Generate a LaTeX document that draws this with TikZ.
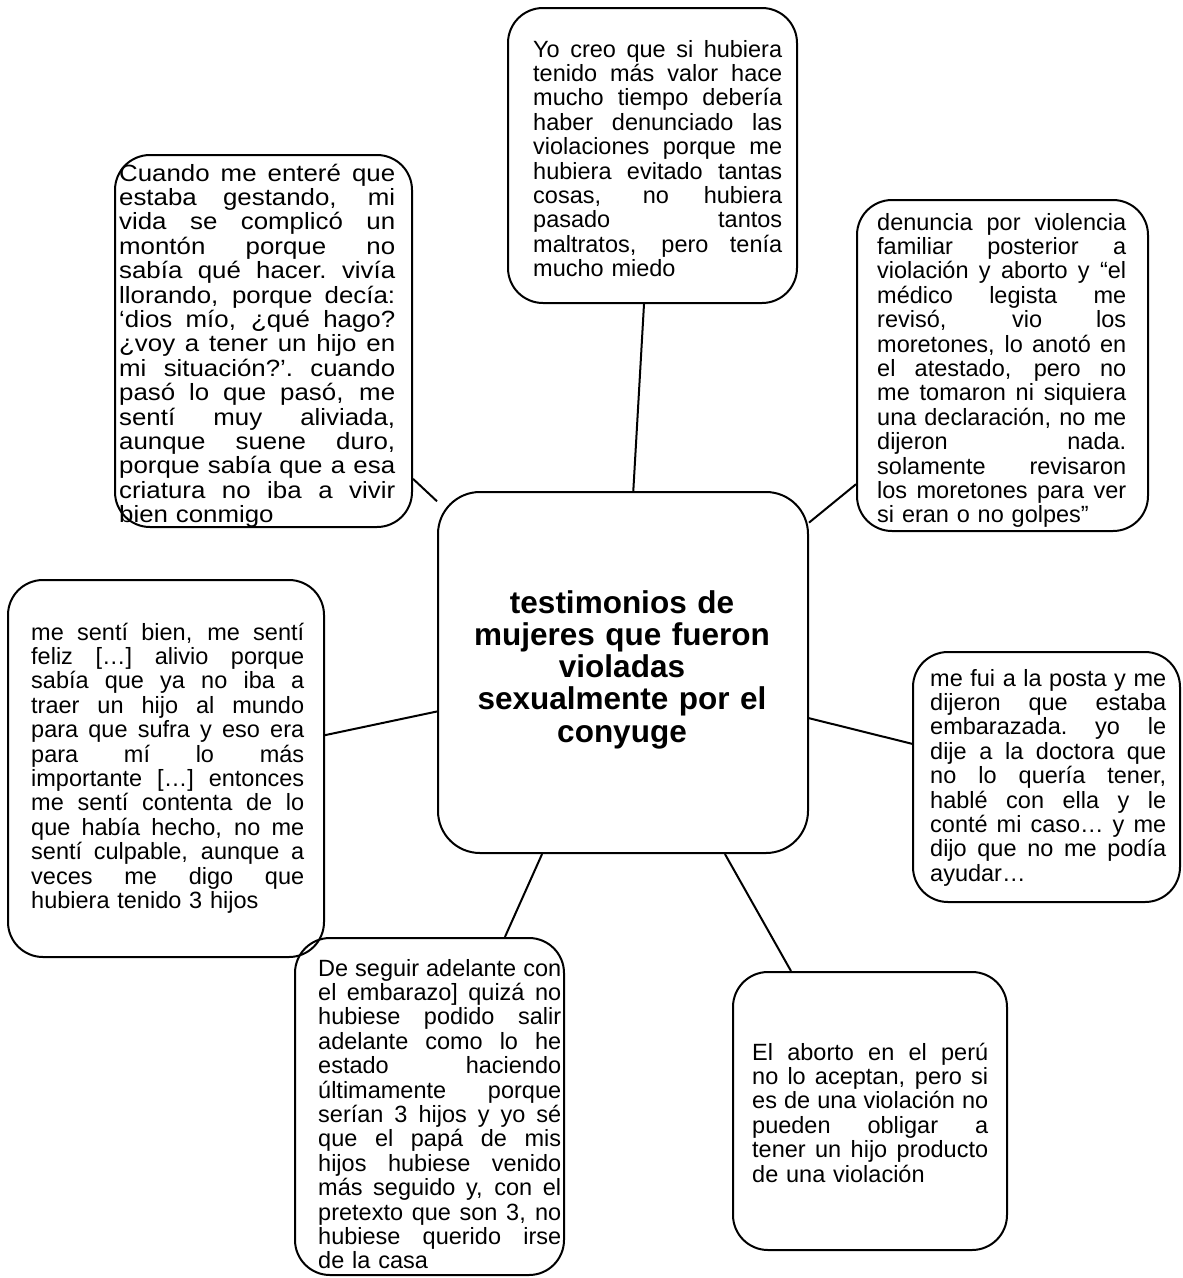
\documentclass[tikz,border=0pt]{standalone}
\usepackage{fontspec}
\newfontfamily\arial{Liberation Sans}
\newfontfamily\arialwide[FakeStretch=1.1]{Liberation Sans}
\newcommand\jl[1]{\leavevmode\hbox to\hsize{\spaceskip=0.278em plus 20em minus 0.05em\xspaceskip=\spaceskip #1}}
\begin{document}
\begin{tikzpicture}[x=1pt,y=-1pt,
  box/.style={draw, rounded corners=35pt, inner sep=0pt, line width=2pt},
  txt/.style={inner sep=0pt, anchor=base west, align=left,
    font={\arial\fontsize{23.5}{24.4}\selectfont}},
  link/.style={line width=2pt}]
\useasboundingbox (0,0) rectangle (1183,1278);

% boxes
\node[box, rounded corners=42pt, minimum width=370pt, minimum height=361pt] (c) at (623,672.5) {};
\node[box, minimum width=289pt, minimum height=295pt] (t)  at (652.5,155.5) {};
\node[box, minimum width=297pt, minimum height=372pt] (tl) at (263.5,341) {};
\node[box, minimum width=291pt, minimum height=331pt] (tr) at (1002.5,365.5) {};
\node[box, minimum width=316pt, minimum height=377pt] (l)  at (166,768.5) {};
\node[box, minimum width=267pt, minimum height=250pt] (r)  at (1046.5,777) {};
\node[box, minimum width=269pt, minimum height=337pt] (bm) at (429.5,1106.5) {};
\node[box, minimum width=274pt, minimum height=278pt] (br) at (870,1111) {};

% connectors
\draw[link] (t) -- (c);
\draw[link] (tl) -- (c);
\draw[link] (tr) -- (c);
\draw[link] (l) -- (c);
\draw[link] (r) -- (c);
\draw[link] (bm) -- (c);
\draw[link] (br) -- (c);

% centre text
\node[inner sep=0pt, anchor=base, text width=360pt, align=center,
  font={\arial\bfseries\fontsize{31.5}{32.3}\selectfont}] (ctxt) at (622,613)
  {testimonios de\\mujeres que fueron\\violadas\\sexualmente por el\\conyuge};

% top
\node[txt, text width=249pt] (ttxt) at (533,57) {%
\jl{Yo creo que si hubiera}\\
\jl{tenido más valor hace}\\
\jl{mucho tiempo debería}\\
\jl{haber denunciado las}\\
\jl{violaciones porque me}\\
\jl{hubiera evitado tantas}\\
\jl{cosas, no hubiera}\\
\jl{pasado tantos}\\
\jl{maltratos, pero tenía}\\
mucho miedo};

% top left
\node[txt, text width=276pt, font={\arialwide\fontsize{23.5}{24.4}\selectfont}] (tltxt) at (119,181) {%
\jl{Cuando me enteré que}\\
\jl{estaba gestando, mi}\\
\jl{vida se complicó un}\\
\jl{montón porque no}\\
\jl{sabía qué hacer. vivía}\\
\jl{llorando, porque decía:}\\
\jl{‘dios mío, ¿qué hago?}\\
\jl{¿voy a tener un hijo en}\\
\jl{mi situación?’. cuando}\\
\jl{pasó lo que pasó, me}\\
\jl{sentí muy aliviada,}\\
\jl{aunque suene duro,}\\
\jl{porque sabía que a esa}\\
\jl{criatura no iba a vivir}\\
bien conmigo};

% top right
\node[txt, text width=249pt] (trtxt) at (877,230) {%
\jl{denuncia por violencia}\\
\jl{familiar posterior a}\\
\jl{violación y aborto y “el}\\
\jl{médico legista me}\\
\jl{revisó, vio los}\\
\jl{moretones, lo anotó en}\\
\jl{el atestado, pero no}\\
\jl{me tomaron ni siquiera}\\
\jl{una declaración, no me}\\
\jl{dijeron nada.}\\
\jl{solamente revisaron}\\
\jl{los moretones para ver}\\
si eran o no golpes”};

% left
\node[txt, text width=273pt] (ltxt) at (31,640) {%
\jl{me sentí bien, me sentí}\\
\jl{feliz […] alivio porque}\\
\jl{sabía que ya no iba a}\\
\jl{traer un hijo al mundo}\\
\jl{para que sufra y eso era}\\
\jl{para mí lo más}\\
\jl{importante […] entonces}\\
\jl{me sentí contenta de lo}\\
\jl{que había hecho, no me}\\
\jl{sentí culpable, aunque a}\\
\jl{veces me digo que}\\
hubiera tenido 3 hijos};

% right
\node[txt, text width=236pt] (rtxt) at (930,686) {%
\jl{me fui a la posta y me}\\
\jl{dijeron que estaba}\\
\jl{embarazada. yo le}\\
\jl{dije a la doctora que}\\
\jl{no lo quería tener,}\\
\jl{hablé con ella y le}\\
\jl{conté mi caso… y me}\\
\jl{dijo que no me podía}\\
ayudar…};

% bottom middle
\node[txt, text width=243pt] (bmtxt) at (318,976) {%
\jl{De seguir adelante con}\\
\jl{el embarazo] quizá no}\\
\jl{hubiese podido salir}\\
\jl{adelante como lo he}\\
\jl{estado haciendo}\\
\jl{últimamente porque}\\
\jl{serían 3 hijos y yo sé}\\
\jl{que el papá de mis}\\
\jl{hijos hubiese venido}\\
\jl{más seguido y, con el}\\
\jl{pretexto que son 3, no}\\
\jl{hubiese querido irse}\\
de la casa};

% bottom right
\node[txt, text width=236pt] (brtxt) at (752,1060) {%
\jl{El aborto en el perú}\\
\jl{no lo aceptan, pero si}\\
\jl{es de una violación no}\\
\jl{pueden obligar a}\\
\jl{tener un hijo producto}\\
de una violación};
\end{tikzpicture}
\end{document}
